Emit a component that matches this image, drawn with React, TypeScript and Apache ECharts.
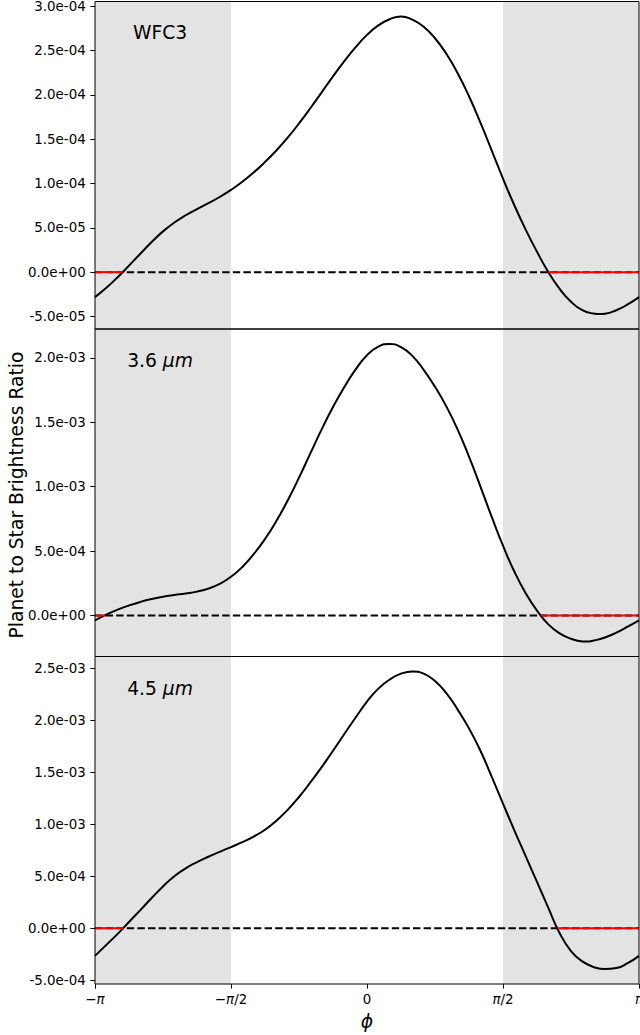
import React, { useEffect, useRef } from "react";
import * as echarts from "echarts";

// Orbital phase (degrees; axis labelled in multiples of pi)
const PHASE_DEG = [
  -180, -172.5, -165, -157.5, -150, -142.5, -135, -127.5, -120, -112.5, -105, -97.5,
  -90, -82.5, -75, -67.5, -60, -52.5, -45, -37.5, -30, -22.5, -15, -7.5,
  0, 7.5, 15, 22.5, 30, 37.5, 45, 52.5, 60, 67.5, 75, 82.5,
  90, 97.5, 105, 112.5, 120, 127.5, 135, 142.5, 150, 157.5, 165, 172.5, 180,
];

const WFC3_FLUX = [
  -2.82e-5, -1.77e-5, -0.57e-5, 0.73e-5, 2.08e-5, 3.4e-5, 4.6e-5, 5.6e-5, 6.42e-5, 7.12e-5,
  7.78e-5, 8.48e-5, 9.28e-5, 10.2e-5, 11.25e-5, 12.43e-5, 13.73e-5, 15.18e-5, 16.78e-5, 18.5e-5,
  20.3e-5, 22.1e-5, 23.82e-5, 25.4e-5, 26.78e-5, 27.85e-5, 28.55e-5, 28.87e-5, 28.5e-5, 27.7e-5,
  26.4e-5, 24.65e-5, 22.45e-5, 19.85e-5, 16.9e-5, 13.75e-5, 10.55e-5, 7.55e-5, 4.8e-5, 2.3e-5,
  0, -1.9e-5, -3.35e-5, -4.3e-5, -4.68e-5, -4.7e-5, -4.3e-5, -3.65e-5, -2.82e-5,
];
// Extra samples at the curve's turning points
const WFC3_EXTRA_PHASE = [154];
const WFC3_EXTRA_FLUX = [-4.74e-5];

const IRAC36_FLUX = [
  -3.64e-5, 0.75e-5, 4.6e-5, 7.85e-5, 10.6e-5, 12.85e-5, 14.6e-5, 15.95e-5, 17.15e-5, 18.6e-5,
  20.9e-5, 24.6e-5, 30.08e-5, 37.7e-5, 47.6e-5, 59.4e-5, 73.3e-5, 89.3e-5, 107e-5, 125.8e-5,
  144.5e-5, 161.8e-5, 177.3e-5, 191e-5, 202e-5, 208.7e-5, 210.8e-5, 208.3e-5, 201.5e-5, 190.7e-5,
  177.5e-5, 162.3e-5, 144.3e-5, 123.3e-5, 100.3e-5, 76.7e-5, 54.2e-5, 34.2e-5, 17.4e-5, 3.8e-5,
  -6.8e-5, -13.8e-5, -18e-5, -20.1e-5, -19.4e-5, -17e-5, -13.2e-5, -8.6e-5, -3.64e-5,
];
const IRAC36_EXTRA_PHASE = [145];
const IRAC36_EXTRA_FLUX = [-20.2e-5];

const IRAC45_FLUX = [
  -26.63e-5, -16.03e-5, -5.43e-5, 5.97e-5, 17.47e-5, 29.07e-5, 40.27e-5, 50.07e-5, 57.67e-5, 63.67e-5,
  68.87e-5, 73.57e-5, 78.17e-5, 82.87e-5, 88.27e-5, 94.9e-5, 103.6e-5, 114e-5, 126.4e-5, 140.4e-5,
  155.2e-5, 170.9e-5, 187.1e-5, 203e-5, 218.3e-5, 230.8e-5, 239.6e-5, 245.2e-5, 247.4e-5, 245.3e-5,
  238.2e-5, 226.5e-5, 210.6e-5, 192.5e-5, 171.2e-5, 146e-5, 120e-5, 94.3e-5, 69.4e-5, 44.6e-5,
  19.6e-5, -4.8e-5, -22e-5, -32e-5, -37.4e-5, -39.4e-5, -38.4e-5, -33.7e-5, -26.63e-5,
];
const IRAC45_EXTRA_PHASE: number[] = [];
const IRAC45_EXTRA_FLUX: number[] = [];

const WFC3_TICKS = [-5e-5, 0, 5e-5, 1e-4, 1.5e-4, 2e-4, 2.5e-4, 3e-4];
const IRAC36_TICKS = [0, 5e-4, 1e-3, 1.5e-3, 2e-3];
const IRAC45_TICKS = [-5e-4, 0, 5e-4, 1e-3, 1.5e-3, 2e-3, 2.5e-3];

const X_TICKS = [-180, -90, 0, 90, 180];
const X_TICK_LABELS = [
  "{m|\u2212}{i|\u03c0}",
  "{m|\u2212}{i|\u03c0}{n|/2}",
  "{n|0}",
  "{i|\u03c0}{n|/2}",
  "{i|\u03c0}",
];

// Night-side (shaded) phase ranges
const SHADED_RANGES = [
  [-180, -90],
  [90, 180],
];

// Phase ranges where the model is negative (drawn in red on the zero line)
const WFC3_NEG = [
  [-180, -161.7],
  [120, 180],
];
const IRAC36_NEG = [
  [-180, -173.6],
  [115.2, 180],
];
const IRAC45_NEG = [
  [-180, -161.4],
  [126, 180],
];

const PANELS = [
  {
    flux: WFC3_FLUX, extraX: WFC3_EXTRA_PHASE, extraY: WFC3_EXTRA_FLUX,
    ticks: WFC3_TICKS, neg: WFC3_NEG, label: "WFC3", italic: "",
  },
  {
    flux: IRAC36_FLUX, extraX: IRAC36_EXTRA_PHASE, extraY: IRAC36_EXTRA_FLUX,
    ticks: IRAC36_TICKS, neg: IRAC36_NEG, label: "3.6 ", italic: "\u03bcm",
  },
  {
    flux: IRAC45_FLUX, extraX: IRAC45_EXTRA_PHASE, extraY: IRAC45_EXTRA_FLUX,
    ticks: IRAC45_TICKS, neg: IRAC45_NEG, label: "4.5 ", italic: "\u03bcm",
  },
];

const FONT = "DejaVu Sans";
const GRID_LEFT = 95;
const GRID_WIDTH = 544;
const GRID_TOPS = [1.5, 329, 656.5];
const GRID_HEIGHT = 327.5;
const LABEL_Y = [32.5, 360.5, 688.5];

function sci(v: number): string {
  const s = v.toExponential(1);
  const m = s.match(/^(-?[\d.]+)e([+-])(\d+)$/);
  if (!m) return s;
  return m[1] + "e" + m[2] + m[3].padStart(2, "0");
}

function buildOption() {
  const grid: any[] = [];
  const xAxis: any[] = [];
  const yAxis: any[] = [];
  const series: any[] = [];
  const graphic: any[] = [];

  PANELS.forEach((p, i) => {
    const pts: number[][] = PHASE_DEG.map((x, k) => [x, p.flux[k]]);
    p.extraX.forEach((x, k) => pts.push([x, p.extraY[k]]));
    pts.sort((a, b) => a[0] - b[0]);
    const ys = pts.map((d) => d[1]);
    const lo = Math.min(...ys);
    const hi = Math.max(...ys);
    const pad = (hi - lo) * 0.05;
    grid.push({
      left: GRID_LEFT,
      width: GRID_WIDTH,
      top: GRID_TOPS[i],
      height: GRID_HEIGHT,
      show: true,
      borderColor: "#000",
      borderWidth: 1,
      backgroundColor: "transparent",
      outerBoundsMode: "none",
      containLabel: false,
      z: 10,
    });
    const isBottom = i === PANELS.length - 1;
    xAxis.push({
      type: "value",
      gridIndex: i,
      min: -180,
      max: 180,
      axisLine: { show: false, onZero: false },
      splitLine: { show: false },
      axisTick: {
        show: isBottom,
        customValues: X_TICKS,
        length: 4.67,
        lineStyle: { color: "#000", width: 1 },
      },
      axisLabel: {
        show: isBottom,
        customValues: X_TICKS,
        margin: 8.5,
        hideOverlap: false,
        formatter: (v: number) => {
          const k = X_TICKS.indexOf(Math.round(v));
          return k >= 0 ? X_TICK_LABELS[k] : "";
        },
        rich: {
          m: { fontFamily: FONT, fontSize: 13.4, color: "#000" },
          n: { fontFamily: FONT, fontSize: 13.4, color: "#000" },
          i: { fontFamily: FONT, fontSize: 13.4, color: "#000", fontStyle: "italic" },
        },
      },
    });
    yAxis.push({
      type: "value",
      gridIndex: i,
      min: lo - pad,
      max: hi + pad,
      axisLine: { show: false, onZero: false },
      splitLine: { show: false },
      axisTick: {
        show: true,
        customValues: p.ticks,
        length: 4.67,
        lineStyle: { color: "#000", width: 1 },
      },
      axisLabel: {
        customValues: p.ticks,
        formatter: (v: number) => sci(v),
        fontFamily: FONT,
        fontSize: 13.4,
        color: "#000",
        margin: 9.3,
      },
    });

    series.push({
      type: "line",
      xAxisIndex: i,
      yAxisIndex: i,
      data: pts,
      showSymbol: false,
      smooth: 0.5,
      lineStyle: { color: "#000", width: 2 },
      silent: true,
      z: 3,
      markArea: {
        silent: true,
        itemStyle: { color: "#e3e3e3" },
        data: SHADED_RANGES.map((r) => [{ xAxis: r[0] }, { xAxis: r[1] }]),
      },
    });
    series.push({
      type: "line",
      xAxisIndex: i,
      yAxisIndex: i,
      data: [
        [-180, 0],
        [180, 0],
      ],
      showSymbol: false,
      silent: true,
      lineStyle: { color: "#000", width: 2, type: [7.4, 3.2] },
      z: 4,
    });
    p.neg.forEach((r) => {
      series.push({
        type: "line",
        xAxisIndex: i,
        yAxisIndex: i,
        data: [
          [r[0], 0],
          [r[1], 0],
        ],
        showSymbol: false,
        silent: true,
        lineStyle: { color: "#ff0000", width: 2 },
        z: 5,
      });
    });

    graphic.push({
      type: "text",
      x: 160,
      y: LABEL_Y[i],
      z: 20,
      style: {
        text: p.italic ? p.label + "{i|" + p.italic + "}" : p.label,
        fontFamily: FONT,
        fontSize: 18.7,
        fill: "#000",
        align: "center",
        verticalAlign: "middle",
        rich: {
          i: { fontFamily: FONT, fontSize: 18.7, fontStyle: "italic", fill: "#000" },
        },
      },
    });
  });

  graphic.push({
    type: "text",
    x: 16,
    y: 495,
    rotation: Math.PI / 2,
    style: {
      text: "Planet to Star Brightness Ratio",
      fontFamily: FONT,
      fontSize: 18.7,
      fill: "#000",
      align: "center",
      verticalAlign: "middle",
    },
  });
  graphic.push({
    type: "text",
    x: 367,
    y: 1021,
    style: {
      text: "\u03d5",
      fontFamily: FONT,
      fontSize: 18.7,
      fontStyle: "italic",
      fill: "#000",
      align: "center",
      verticalAlign: "middle",
    },
  });

  return {
    animation: false,
    backgroundColor: "#fff",
    grid,
    xAxis,
    yAxis,
    series,
    graphic,
  };
}

export default function App() {
  const ref = useRef<HTMLDivElement | null>(null);
  useEffect(() => {
    if (!ref.current) return;
    const chart = echarts.init(ref.current, undefined, { renderer: "svg" });
    chart.setOption(buildOption() as any);
    return () => chart.dispose();
  }, []);
  return (
    <div
      ref={ref}
      style={{ position: "absolute", left: 0, top: 0, width: 640, height: 1035 }}
    />
  );
}
